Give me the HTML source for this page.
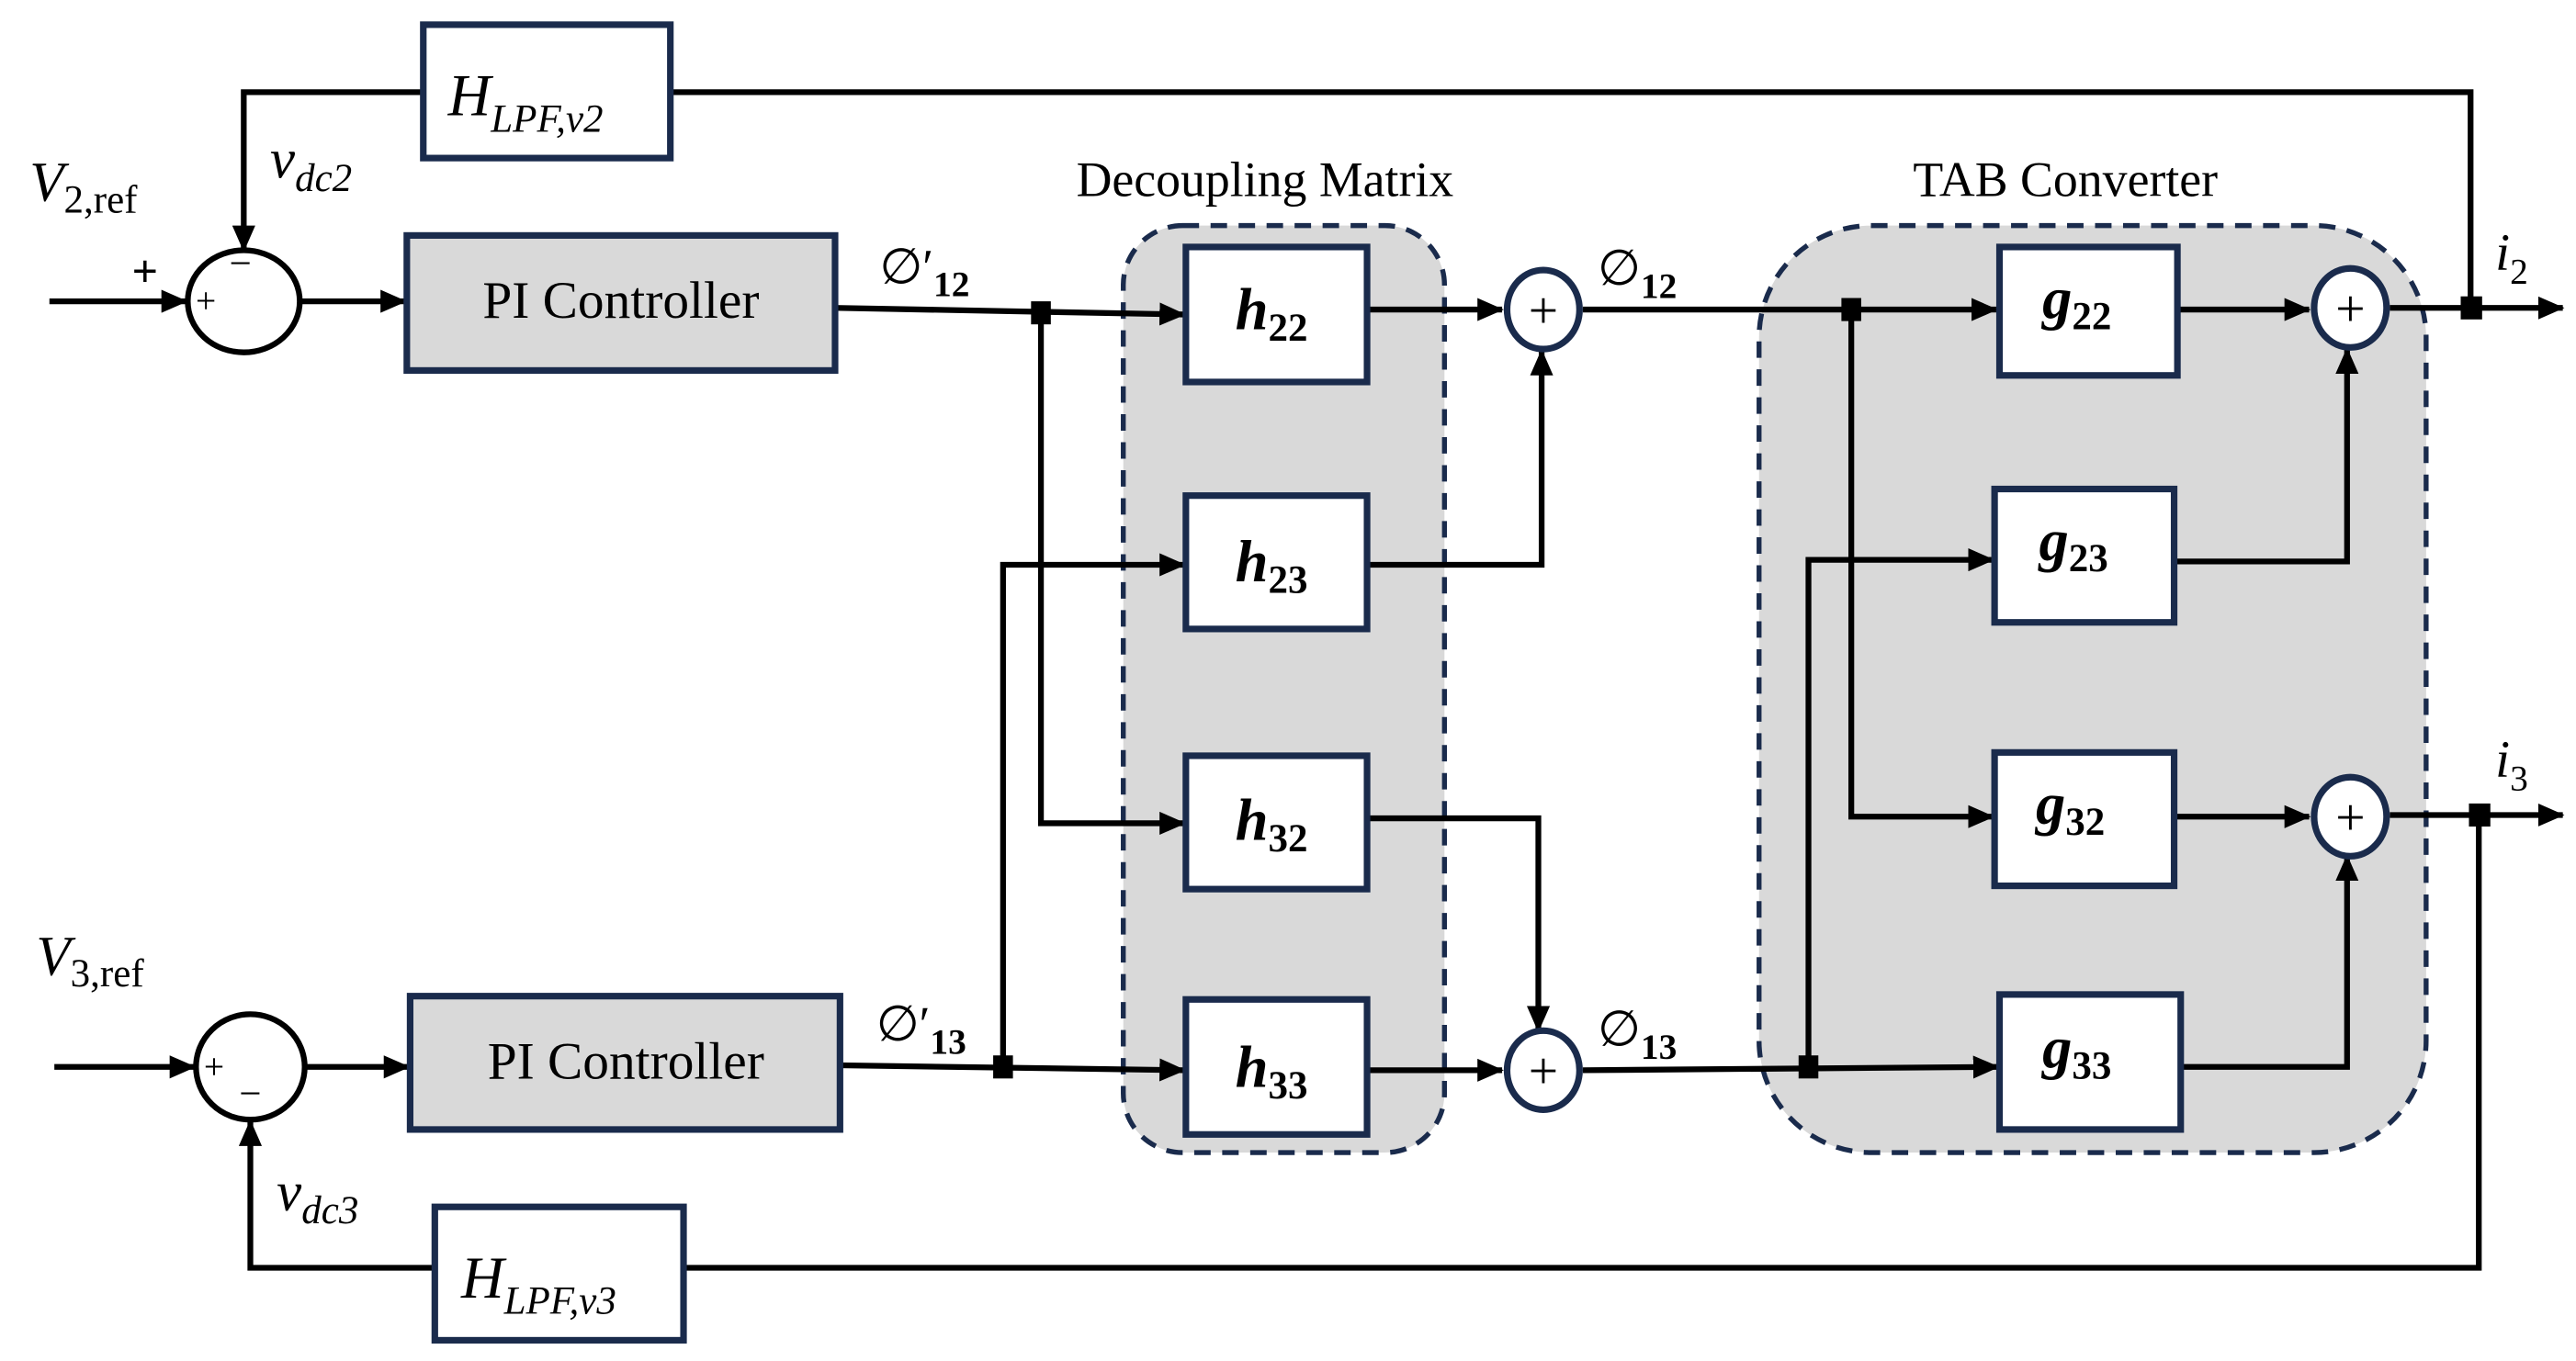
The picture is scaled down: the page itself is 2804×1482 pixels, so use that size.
<!DOCTYPE html>
<html><head><meta charset="utf-8"><style>
html,body{margin:0;padding:0;background:#fff;}
svg{display:block;}
text{font-family:"Liberation Serif",serif;fill:#000;}
</style></head><body>
<svg width="2804" height="1482" viewBox="0 0 1564 826.6" preserveAspectRatio="none" xmlns="http://www.w3.org/2000/svg">
<defs>
<marker id="a" markerUnits="userSpaceOnUse" markerWidth="16" markerHeight="14" refX="15" refY="7" orient="auto">
<path d="M0,0 L16,7 L0,14 Z" fill="#000"/>
</marker>
</defs>
<rect width="1564" height="826.6" fill="#fff"/>
<!-- group backgrounds -->
<rect x="682" y="137" width="195" height="563" rx="36" fill="#d9d9d9" stroke="#1a2b4c" stroke-width="3" stroke-dasharray="10,7"/>
<rect x="1068" y="137" width="405" height="563" rx="68" fill="#d9d9d9" stroke="#1a2b4c" stroke-width="3" stroke-dasharray="10,7"/>
<text x="768" y="119" font-size="30" text-anchor="middle">Decoupling Matrix</text>
<text x="1254" y="119" font-size="30" text-anchor="middle">TAB Converter</text>

<g stroke="#000" stroke-width="3.5" fill="none">
<!-- top feedback -->
<polyline points="257,56 148,56 148,152" marker-end="url(#a)"/>
<polyline points="407,56 1500,56 1500,187"/>
<line x1="30" y1="183" x2="113" y2="183" marker-end="url(#a)"/>
<line x1="182" y1="183" x2="246" y2="183" marker-end="url(#a)"/>
<line x1="507" y1="187" x2="719" y2="191" marker-end="url(#a)"/>
<polyline points="632,190 632,500 719,500" marker-end="url(#a)"/>
<polyline points="609,648 609,343 719,343" marker-end="url(#a)"/>
<!-- bottom row -->
<line x1="33" y1="648" x2="118" y2="648" marker-end="url(#a)"/>
<line x1="185" y1="648" x2="248" y2="648" marker-end="url(#a)"/>
<line x1="510" y1="647" x2="719" y2="650" marker-end="url(#a)"/>
<!-- h outputs -->
<line x1="830" y1="188" x2="912" y2="188" marker-end="url(#a)"/>
<polyline points="830,343 936,343 936,213" marker-end="url(#a)"/>
<polyline points="830,497 934,497 934,626" marker-end="url(#a)"/>
<line x1="830" y1="650" x2="912" y2="650" marker-end="url(#a)"/>
<!-- phi lines -->
<line x1="961" y1="188" x2="1212" y2="188" marker-end="url(#a)"/>
<polyline points="1124,188 1124,496 1210,496" marker-end="url(#a)"/>
<line x1="961" y1="650" x2="1213" y2="648" marker-end="url(#a)"/>
<polyline points="1098,648 1098,340 1210,340" marker-end="url(#a)"/>
<!-- g outputs -->
<line x1="1322" y1="188" x2="1402" y2="188" marker-end="url(#a)"/>
<polyline points="1320,341 1425,341 1425,212" marker-end="url(#a)"/>
<line x1="1320" y1="496" x2="1402" y2="496" marker-end="url(#a)"/>
<polyline points="1324,648 1425,648 1425,520" marker-end="url(#a)"/>
<!-- outputs -->
<line x1="1451" y1="187" x2="1556" y2="187" marker-end="url(#a)"/>
<line x1="1451" y1="495" x2="1556" y2="495" marker-end="url(#a)"/>
<!-- bottom feedback -->
<polyline points="1505,494 1505,770 415,770"/>
<polyline points="264,770 152,770 152,681" marker-end="url(#a)"/>
</g>

<!-- junctions -->
<g fill="#000">
<rect x="626" y="183" width="12" height="14"/>
<rect x="603" y="641" width="12" height="14"/>
<rect x="1118" y="181" width="12" height="14"/>
<rect x="1092" y="641" width="12" height="14"/>
<rect x="1494" y="180" width="13" height="14"/>
<rect x="1499" y="488" width="13" height="14"/>
</g>

<!-- sum circles (black) -->
<ellipse cx="148" cy="183" rx="34" ry="31" fill="#fff" stroke="#000" stroke-width="3.5"/>
<ellipse cx="152" cy="648" rx="33" ry="32" fill="#fff" stroke="#000" stroke-width="3.5"/>
<text x="125" y="190" font-size="22" text-anchor="middle" font-family="Liberation Sans,sans-serif">+</text>
<text x="146" y="168" font-size="24" text-anchor="middle" font-family="Liberation Sans,sans-serif">−</text>
<text x="88" y="174" font-size="28" text-anchor="middle" font-family="Liberation Sans,sans-serif" font-weight="bold">+</text>
<text x="130" y="655" font-size="22" text-anchor="middle" font-family="Liberation Sans,sans-serif">+</text>
<text x="152" y="672" font-size="24" text-anchor="middle" font-family="Liberation Sans,sans-serif">−</text>

<!-- navy sum circles -->
<g fill="#fff" stroke="#1a2b4c" stroke-width="4">
<ellipse cx="937" cy="188" rx="22" ry="24"/>
<ellipse cx="937" cy="650" rx="22" ry="24"/>
<ellipse cx="1427" cy="187" rx="22" ry="24"/>
<ellipse cx="1427" cy="496" rx="22" ry="24"/>
</g>
<g font-size="32" text-anchor="middle" font-family="Liberation Sans,sans-serif">
<text x="937" y="199">+</text><text x="937" y="661">+</text>
<text x="1427" y="198">+</text><text x="1427" y="507">+</text>
</g>

<!-- boxes -->
<g stroke="#1a2b4c" stroke-width="4">
<rect x="257" y="15" width="150" height="81" fill="#fff"/>
<rect x="264" y="733" width="151" height="81" fill="#fff"/>
<rect x="247" y="143" width="260" height="82" fill="#d9d9d9"/>
<rect x="249" y="605" width="261" height="81" fill="#d9d9d9"/>
<rect x="720" y="150" width="110" height="82" fill="#fff"/>
<rect x="720" y="301" width="110" height="81" fill="#fff"/>
<rect x="720" y="459" width="110" height="81" fill="#fff"/>
<rect x="720" y="607" width="110" height="82" fill="#fff"/>
<rect x="1214" y="150" width="108" height="78" fill="#fff"/>
<rect x="1211" y="297" width="109" height="81" fill="#fff"/>
<rect x="1211" y="457" width="109" height="81" fill="#fff"/>
<rect x="1214" y="604" width="110" height="82" fill="#fff"/>
</g>

<text x="377" y="193" font-size="32" text-anchor="middle">PI Controller</text>
<text x="380" y="655" font-size="32" text-anchor="middle">PI Controller</text>

<text x="272" y="70" font-size="36" font-style="italic">H<tspan font-size="24" dy="10">LPF,v2</tspan></text>
<text x="280" y="788" font-size="36" font-style="italic">H<tspan font-size="24" dy="10">LPF,v3</tspan></text>

<g font-size="36" font-style="italic" font-weight="bold">
<text x="750" y="200">h<tspan font-size="24" dy="7" font-style="normal">22</tspan></text>
<text x="750" y="353">h<tspan font-size="24" dy="7" font-style="normal">23</tspan></text>
<text x="750" y="510">h<tspan font-size="24" dy="7" font-style="normal">32</tspan></text>
<text x="750" y="660">h<tspan font-size="24" dy="7" font-style="normal">33</tspan></text>
<text x="1240" y="193">g<tspan font-size="24" dy="7" font-style="normal">22</tspan></text>
<text x="1238" y="340">g<tspan font-size="24" dy="7" font-style="normal">23</tspan></text>
<text x="1236" y="500">g<tspan font-size="24" dy="7" font-style="normal">32</tspan></text>
<text x="1240" y="648">g<tspan font-size="24" dy="7" font-style="normal">33</tspan></text>
</g>

<text x="18" y="122" font-size="34" font-style="italic">V<tspan font-size="24" dy="7" font-style="normal">2,ref</tspan></text>
<text x="22" y="592" font-size="34" font-style="italic">V<tspan font-size="24" dy="7" font-style="normal">3,ref</tspan></text>
<text x="164" y="108" font-size="34" font-style="italic">v<tspan font-size="24" dy="8">dc2</tspan></text>
<text x="168" y="735" font-size="34" font-style="italic">v<tspan font-size="24" dy="8">dc3</tspan></text>
<text x="534" y="172" font-size="30">∅′<tspan font-size="22" dy="8" font-weight="bold">12</tspan></text>
<text x="532" y="632" font-size="30">∅′<tspan font-size="22" dy="8" font-weight="bold">13</tspan></text>
<text x="970" y="173" font-size="30">∅<tspan font-size="22" dy="8" font-weight="bold">12</tspan></text>
<text x="970" y="635" font-size="30">∅<tspan font-size="22" dy="8" font-weight="bold">13</tspan></text>
<text x="1515" y="164" font-size="32" font-style="italic">i<tspan font-size="22" dy="8" font-style="normal">2</tspan></text>
<text x="1515" y="472" font-size="32" font-style="italic">i<tspan font-size="22" dy="8" font-style="normal">3</tspan></text>
</svg>
</body></html>
